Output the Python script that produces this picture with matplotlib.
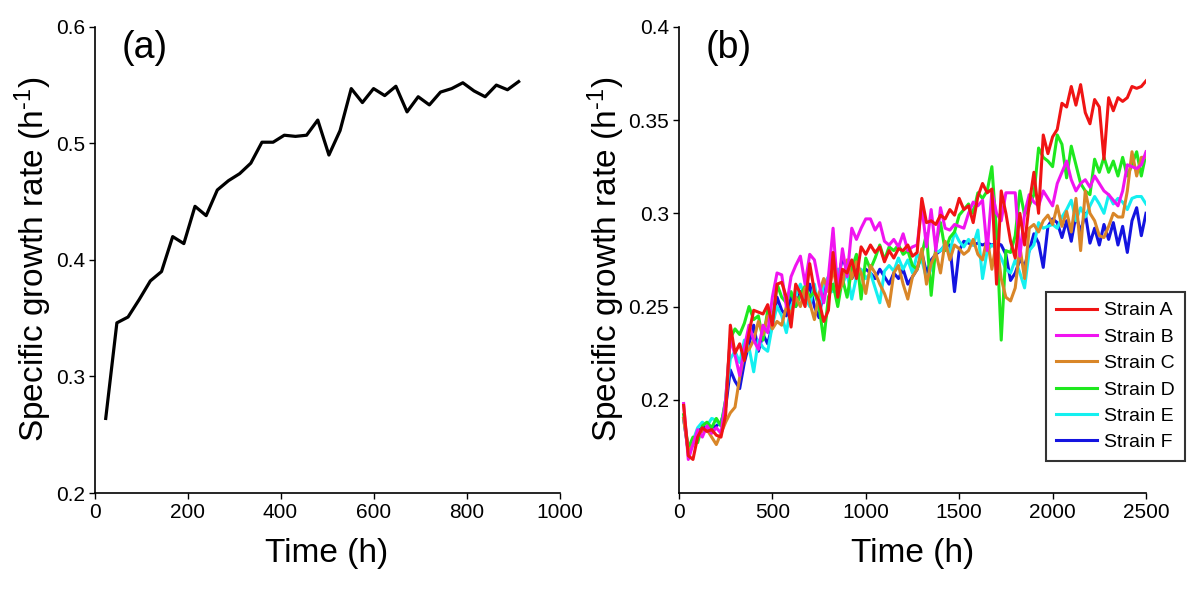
import numpy as np
import matplotlib
matplotlib.use("Agg")
import matplotlib.pyplot as plt

plt.rcParams['font.family'] = ['Liberation Sans', 'DejaVu Sans']
plt.rcParams['mathtext.fontset'] = 'custom'
plt.rcParams['mathtext.rm'] = 'Liberation Sans'
plt.rcParams['mathtext.it'] = 'Liberation Sans'

# ---- panel (a): single culture ----
time_a = [24, 48, 72, 96, 120, 144, 168, 192, 216, 240, 264, 288, 312, 336, 360,
          384, 408, 432, 456, 480, 504, 528, 552, 576, 600, 624, 648, 672, 696,
          720, 744, 768, 792, 816, 840, 864, 888, 912]
rate_a = [0.264, 0.346, 0.351, 0.366, 0.382, 0.390, 0.420, 0.414, 0.446, 0.438,
          0.460, 0.468, 0.474, 0.483, 0.501, 0.501, 0.507, 0.506, 0.507, 0.520,
          0.490, 0.511, 0.547, 0.535, 0.547, 0.541, 0.549, 0.527, 0.540, 0.533,
          0.544, 0.547, 0.552, 0.545, 0.540, 0.550, 0.546, 0.553]

# ---- panel (b): six strains, sampled every 25 h ----
time_b = list(range(25, 2501, 25))

strain_a = [0.197, 0.170, 0.168, 0.180, 0.185, 0.183, 0.184, 0.181, 0.180, 0.192,
            0.240, 0.225, 0.230, 0.221, 0.236, 0.248, 0.247, 0.246, 0.251, 0.240,
            0.262, 0.263, 0.255, 0.239, 0.262, 0.257, 0.250, 0.273, 0.258, 0.253,
            0.242, 0.248, 0.279, 0.255, 0.270, 0.268, 0.275, 0.265, 0.282, 0.278,
            0.283, 0.279, 0.282, 0.274, 0.280, 0.276, 0.281, 0.280, 0.283, 0.277,
            0.279, 0.308, 0.295, 0.296, 0.294, 0.299, 0.297, 0.302, 0.299, 0.308,
            0.302, 0.304, 0.295, 0.309, 0.316, 0.311, 0.313, 0.262, 0.312, 0.300,
            0.285, 0.276, 0.300, 0.283, 0.305, 0.322, 0.300, 0.342, 0.332, 0.341,
            0.345, 0.359, 0.357, 0.368, 0.358, 0.369, 0.354, 0.348, 0.361, 0.357,
            0.329, 0.362, 0.355, 0.362, 0.360, 0.362, 0.368, 0.367, 0.368, 0.371]
strain_b = [0.198, 0.168, 0.176, 0.184, 0.180, 0.186, 0.182, 0.185, 0.182, 0.200,
            0.233, 0.224, 0.213, 0.228, 0.240, 0.232, 0.227, 0.240, 0.236, 0.255,
            0.268, 0.267, 0.250, 0.266, 0.272, 0.277, 0.262, 0.278, 0.275, 0.262,
            0.252, 0.266, 0.292, 0.258, 0.281, 0.266, 0.292, 0.286, 0.292, 0.297,
            0.297, 0.291, 0.295, 0.285, 0.283, 0.286, 0.282, 0.289, 0.280, 0.282,
            0.283, 0.304, 0.282, 0.302, 0.280, 0.303, 0.292, 0.291, 0.294, 0.293,
            0.292, 0.300, 0.306, 0.304, 0.307, 0.280, 0.312, 0.300, 0.296, 0.311,
            0.311, 0.311, 0.277, 0.300, 0.310, 0.306, 0.304, 0.312, 0.308, 0.304,
            0.316, 0.322, 0.328, 0.318, 0.312, 0.316, 0.318, 0.314, 0.320, 0.316,
            0.312, 0.310, 0.307, 0.304, 0.312, 0.326, 0.325, 0.324, 0.326, 0.333]
strain_c = [0.190, 0.172, 0.176, 0.182, 0.183, 0.184, 0.180, 0.176, 0.182, 0.188,
            0.193, 0.196, 0.212, 0.225, 0.227, 0.232, 0.242, 0.235, 0.245, 0.238,
            0.242, 0.240, 0.250, 0.246, 0.255, 0.250, 0.260, 0.252, 0.243, 0.257,
            0.265, 0.258, 0.270, 0.258, 0.262, 0.275, 0.265, 0.274, 0.268, 0.257,
            0.272, 0.268, 0.262, 0.257, 0.250, 0.268, 0.272, 0.262, 0.254, 0.266,
            0.270, 0.281, 0.262, 0.273, 0.279, 0.268, 0.285, 0.275, 0.283, 0.281,
            0.278, 0.280, 0.286, 0.278, 0.275, 0.287, 0.270, 0.285, 0.265, 0.255,
            0.253, 0.260, 0.282, 0.265, 0.292, 0.294, 0.290, 0.296, 0.299, 0.294,
            0.304, 0.293, 0.301, 0.290, 0.308, 0.280, 0.312, 0.300, 0.296, 0.288,
            0.287, 0.293, 0.300, 0.298, 0.298, 0.312, 0.333, 0.320, 0.330, 0.330]
strain_d = [0.192, 0.174, 0.180, 0.177, 0.186, 0.188, 0.185, 0.190, 0.186, 0.200,
            0.233, 0.238, 0.235, 0.241, 0.250, 0.243, 0.245, 0.232, 0.248, 0.242,
            0.262, 0.255, 0.252, 0.258, 0.250, 0.256, 0.261, 0.255, 0.258, 0.250,
            0.232, 0.255, 0.262, 0.250, 0.265, 0.255, 0.270, 0.278, 0.254, 0.276,
            0.270, 0.276, 0.283, 0.275, 0.282, 0.280, 0.283, 0.278, 0.280, 0.272,
            0.270, 0.278, 0.289, 0.256, 0.282, 0.295, 0.280, 0.287, 0.290, 0.299,
            0.302, 0.305, 0.300, 0.311, 0.308, 0.312, 0.325, 0.290, 0.232, 0.280,
            0.279, 0.288, 0.312, 0.299, 0.304, 0.310, 0.335, 0.330, 0.328, 0.325,
            0.342, 0.337, 0.319, 0.336, 0.326, 0.316, 0.312, 0.310, 0.329, 0.322,
            0.330, 0.322, 0.328, 0.320, 0.330, 0.320, 0.326, 0.333, 0.320, 0.332]
strain_e = [0.190, 0.174, 0.178, 0.185, 0.188, 0.186, 0.190, 0.189, 0.186, 0.200,
            0.222, 0.226, 0.220, 0.232, 0.228, 0.215, 0.232, 0.228, 0.226, 0.240,
            0.250, 0.245, 0.236, 0.250, 0.256, 0.262, 0.255, 0.250, 0.262, 0.248,
            0.262, 0.266, 0.258, 0.270, 0.262, 0.268, 0.254, 0.266, 0.270, 0.265,
            0.268, 0.260, 0.252, 0.269, 0.272, 0.269, 0.276, 0.270, 0.275, 0.268,
            0.278, 0.275, 0.265, 0.270, 0.279, 0.280, 0.283, 0.279, 0.290, 0.285,
            0.282, 0.286, 0.283, 0.291, 0.265, 0.280, 0.283, 0.281, 0.276, 0.270,
            0.268, 0.275, 0.268, 0.260, 0.280, 0.283, 0.295, 0.292, 0.293, 0.294,
            0.292, 0.298, 0.302, 0.307, 0.296, 0.303, 0.298, 0.304, 0.309, 0.305,
            0.300, 0.310, 0.305, 0.308, 0.306, 0.302, 0.308, 0.309, 0.309, 0.305]
strain_f = [0.190, 0.172, 0.178, 0.183, 0.185, 0.186, 0.185, 0.186, 0.188, 0.196,
            0.216, 0.210, 0.206, 0.220, 0.230, 0.240, 0.226, 0.235, 0.230, 0.240,
            0.255, 0.248, 0.245, 0.255, 0.250, 0.258, 0.252, 0.262, 0.250, 0.244,
            0.260, 0.262, 0.270, 0.264, 0.276, 0.270, 0.265, 0.270, 0.268, 0.270,
            0.268, 0.265, 0.270, 0.266, 0.262, 0.268, 0.265, 0.270, 0.262, 0.266,
            0.270, 0.279, 0.268, 0.275, 0.278, 0.280, 0.283, 0.283, 0.258, 0.280,
            0.285, 0.284, 0.283, 0.284, 0.283, 0.284, 0.283, 0.284, 0.283, 0.278,
            0.264, 0.268, 0.275, 0.272, 0.280, 0.289, 0.284, 0.271, 0.293, 0.297,
            0.295, 0.287, 0.296, 0.285, 0.299, 0.290, 0.300, 0.284, 0.292, 0.283,
            0.294, 0.286, 0.295, 0.283, 0.293, 0.279, 0.296, 0.303, 0.288, 0.300]

strain_labels = ['Strain A', 'Strain B', 'Strain C', 'Strain D', 'Strain E', 'Strain F']
strain_colors = ['#f01414', '#f014f0', '#d98628', '#1ee81e', '#14f0f0', '#1414e0']
strain_data = [strain_a, strain_b, strain_c, strain_d, strain_e, strain_f]

fig = plt.figure(figsize=(12, 5.92), dpi=100)
ax1 = fig.add_axes([0.0788, 0.1672, 0.3875, 0.7875])
ax2 = fig.add_axes([0.5658, 0.1672, 0.3892, 0.7875])

ylab = 'Specific growth rate (h$^{\u20101}$)'


def style_axes(ax):
    for side in ['top', 'right']:
        ax.spines[side].set_visible(False)
    for side in ['left', 'bottom']:
        ax.spines[side].set_linewidth(1.2)
    ax.tick_params(direction='out', length=4, width=1, labelsize=15, pad=3)
    ax.set_xlabel('Time (h)', fontsize=24, labelpad=12)
    ax.set_ylabel(ylab, fontsize=24, labelpad=1)


# panel (a)
ax1.plot(time_a, rate_a, color='black', lw=2.3)
ax1.set_xlim(0, 1000)
ax1.set_ylim(0.2, 0.6)
ax1.set_xticks([0, 200, 400, 600, 800, 1000])
ax1.set_yticks([0.2, 0.3, 0.4, 0.5, 0.6])
ax1.set_yticklabels(['0.2', '0.3', '0.4', '0.5', '0.6'])
style_axes(ax1)
ax1.text(0.059, 0.955, '(a)', transform=ax1.transAxes, fontsize=27, va='center')

# panel (b)
handles = []
for label, color, vals in zip(strain_labels, strain_colors, strain_data):
    line, = ax2.plot(time_b, vals, color=color, lw=2.2, label=label)
    handles.append(line)
# Strain A drawn on top
for i, h in enumerate(handles):
    h.set_zorder(10 - i)
ax2.set_xlim(0, 2500)
ax2.set_ylim(0.15, 0.4)
ax2.set_xticks([0, 500, 1000, 1500, 2000, 2500])
ax2.set_yticks([0.2, 0.25, 0.3, 0.35, 0.4])
ax2.set_yticklabels(['0.2', '0.25', '0.3', '0.35', '0.4'])
style_axes(ax2)
ax2.text(0.058, 0.955, '(b)', transform=ax2.transAxes, fontsize=27, va='center')

leg = ax2.legend(handles=handles, loc='upper left', bbox_to_anchor=(0.786, 0.431),
                 borderaxespad=0, fontsize=14, frameon=True, fancybox=False,
                 edgecolor='black', handlelength=2.1, handletextpad=0.4,
                 labelspacing=0.45, borderpad=0.5)
leg.get_frame().set_linewidth(1.5)
leg.set_zorder(20)

fig.savefig('out.png', dpi=100)
